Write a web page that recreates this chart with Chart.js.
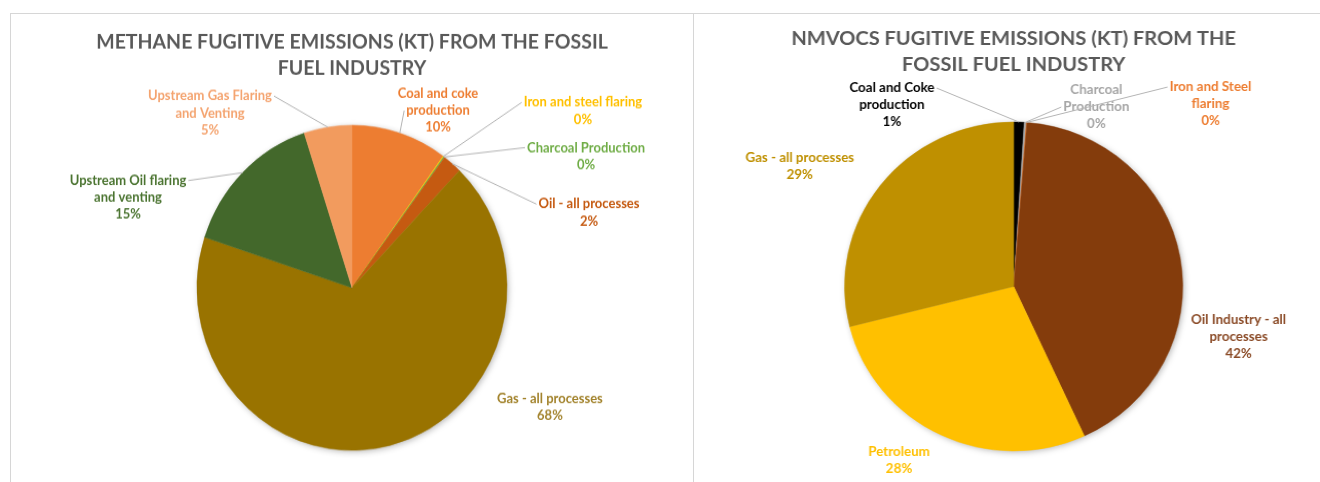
<!DOCTYPE html>
<html>
<head>
<meta charset="utf-8">
<script src="https://cdn.jsdelivr.net/npm/chart.js@4.4.1/dist/chart.umd.min.js"></script>
<style>
  html, body { margin: 0; padding: 0; background: #fff; overflow: hidden; }
  body { width: 1320px; height: 482px; position: relative; }
  .rule { position: absolute; background: #d6d6d6; }
  canvas { position: absolute; }
</style>
</head>
<body>
<div class="rule" style="left:10px;top:13px;width:1310px;height:1px"></div>
<div class="rule" style="left:10px;top:13px;width:1px;height:469px"></div>
<div class="rule" style="left:693px;top:13px;width:1px;height:469px"></div>
<canvas id="methaneChart" width="682" height="470" style="left:11px;top:14px;width:682px;height:492.6px"></canvas>
<canvas id="nmvocChart" width="610" height="490" style="left:694px;top:14px;width:626.7px;height:490px"></canvas>
<script>
// Methane, shares of fugitive emissions (%)
const methaneLabels = [
	['Coal and coke', 'production'],
	['Iron and steel flaring'],
	['Charcoal Production'],
	['Oil - all processes'],
	['Gas - all processes'],
	['Upstream Oil flaring', 'and venting'],
	['Upstream Gas Flaring', 'and Venting'],
];
const methaneShares = [10, 0.1, 0.1, 2, 68, 15, 5];

// NMVOCs, shares of fugitive emissions (%)
const nmvocLabels = [
	['Coal and Coke', 'production'],
	['Charcoal', 'Production'],
	['Iron and Steel', 'flaring'],
	['Oil Industry - all', 'processes'],
	['Petroleum'],
	['Gas - all processes'],
];
const nmvocShares = [1, 0.2, 0.05, 42, 28, 29];

const methaneColors = ['#ED7D31', '#FFC000', '#70AD47', '#C55A11', '#997300', '#43682B', '#F29B5E'];
const methaneTextColors = ['#ED7D31', '#FFC000', '#70AD47', '#C55A11', '#A3842E', '#4B7431', '#F4A470'];
const nmvocColors = ['#000000', '#A5A5A5', '#ED7D31', '#843C0C', '#FFC000', '#BF9000'];
const nmvocTextColors = ['#000000', '#A5A5A5', '#ED7D31', '#8A4A26', '#FFC000', '#BF9000'];

// label block centre relative to the pie centre, in radii; lead = text line the leader joins (-1: none)
const methaneSpots = [
	{ fx: 0.555, fy: -1.090, lead: 1 },
	{ fx: 1.490, fy: -1.088, lead: 0 },
	{ fx: 1.510, fy: -0.810, lead: 0 },
	{ fx: 1.529, fy: -0.462, lead: 0 },
	{ fx: 1.277, fy: 0.733, lead: -1 },
	{ fx: -1.445, fy: -0.555, lead: 0 },
	{ fx: -0.916, fy: -1.075, lead: 0 },
];
const nmvocSpots = [
	{ fx: -0.720, fy: -1.103, lead: 0 },
	{ fx: 0.489, fy: -1.091, lead: 1 },
	{ fx: 1.164, fy: -1.109, lead: 0 },
	{ fx: 1.330, fy: 0.307, lead: -1 },
	{ fx: -0.678, fy: 1.058, lead: -1 },
	{ fx: -1.265, fy: -0.729, lead: -1 },
];

const sliceLabels = {
	id: 'sliceLabels',
	beforeDatasetsDraw(chart) {
		// soft shadow under the pie
		const first = chart.getDatasetMeta(0).data[0];
		const ctx = chart.ctx;
		ctx.save();
		ctx.shadowColor = 'rgba(0, 0, 0, 0.35)';
		ctx.shadowBlur = 7;
		ctx.shadowOffsetX = 1.5;
		ctx.shadowOffsetY = 1.5;
		ctx.beginPath();
		ctx.arc(first.x, first.y, first.outerRadius - 1, 0, Math.PI * 2);
		ctx.fillStyle = '#fff';
		ctx.fill();
		ctx.restore();
	},
	afterDatasetsDraw(chart, args, opts) {
		const ctx = chart.ctx;
		const values = chart.data.datasets[0].data;
		const total = values.reduce((a, b) => a + b, 0);
		const arcs = chart.getDatasetMeta(0).data;

		ctx.save();
		ctx.font = opts.font;
		ctx.textAlign = 'center';
		ctx.textBaseline = 'middle';

		arcs.forEach((arc, i) => {
			const spot = opts.spots[i];
			const lines = chart.data.labels[i].concat([Math.round(values[i] / total * 100) + '%']);
			const cx = arc.x + spot.fx * arc.outerRadius;
			const cy = arc.y + spot.fy * arc.outerRadius;
			const top = cy - (lines.length - 1) * opts.lineHeight / 2;

			if (spot.lead >= 0) {
				const mid = (arc.startAngle + arc.endAngle) / 2;
				const px = arc.x + Math.cos(mid) * arc.outerRadius;
				const py = arc.y + Math.sin(mid) * arc.outerRadius;
				const w = ctx.measureText(lines[spot.lead]).width;
				const ex = cx > px ? cx - w / 2 - 2 : cx + w / 2 + 2;
				const ey = top + spot.lead * opts.lineHeight;
				ctx.beginPath();
				ctx.moveTo(px, py);
				ctx.lineTo(ex, ey);
				ctx.lineWidth = 1;
				ctx.strokeStyle = '#B4B4B4';
				ctx.stroke();
			}

			ctx.fillStyle = opts.colors[i];
			lines.forEach((line, j) => ctx.fillText(line, cx, top + j * opts.lineHeight));
		});
		ctx.restore();
	},
};

function makePie(id, labels, values, colors, textColors, spots, cfg) {
	return new Chart(document.getElementById(id), {
		type: 'pie',
		data: {
			labels: labels,
			datasets: [{
				data: values,
				backgroundColor: colors,
				borderColor: colors,
				borderWidth: 0.5,
				hoverOffset: 0,
			}],
		},
		options: {
			responsive: false,
			animation: false,
			radius: cfg.radius,
			layout: { padding: cfg.padding },
			plugins: {
				legend: { display: false },
				tooltip: { enabled: false },
				title: {
					display: true,
					text: cfg.title,
					color: '#595959',
					font: { family: 'Lato', size: 19.5, weight: 'bold', lineHeight: cfg.titleLineHeight },
					padding: { top: cfg.titleTop, bottom: 0 },
				},
				sliceLabels: {
					spots: spots,
					colors: textColors,
					font: 'bold 13px Lato',
					lineHeight: cfg.labelLineHeight,
				},
			},
		},
		plugins: [sliceLabels],
	});
}

makePie('methaneChart', methaneLabels, methaneShares, methaneColors, methaneTextColors, methaneSpots, {
	title: ['METHANE FUGITIVE EMISSIONS (KT) FROM THE FOSSIL', 'FUEL INDUSTRY'],
	radius: 155,
	padding: { left: 0, right: 0, top: 0, bottom: 11.9 },
	titleTop: 14.3,
	titleLineHeight: '24.8px',
	labelLineHeight: 16.2,
});

makePie('nmvocChart', nmvocLabels, nmvocShares, nmvocColors, nmvocTextColors, nmvocSpots, {
	title: ['NMVOCS FUGITIVE EMISSIONS (KT) FROM THE', 'FOSSIL FUEL INDUSTRY'],
	radius: 164.5,
	padding: { left: 12, right: 0, top: 0, bottom: 9 },
	titleTop: 12,
	titleLineHeight: '26px',
	labelLineHeight: 17,
});
</script>
</body>
</html>
